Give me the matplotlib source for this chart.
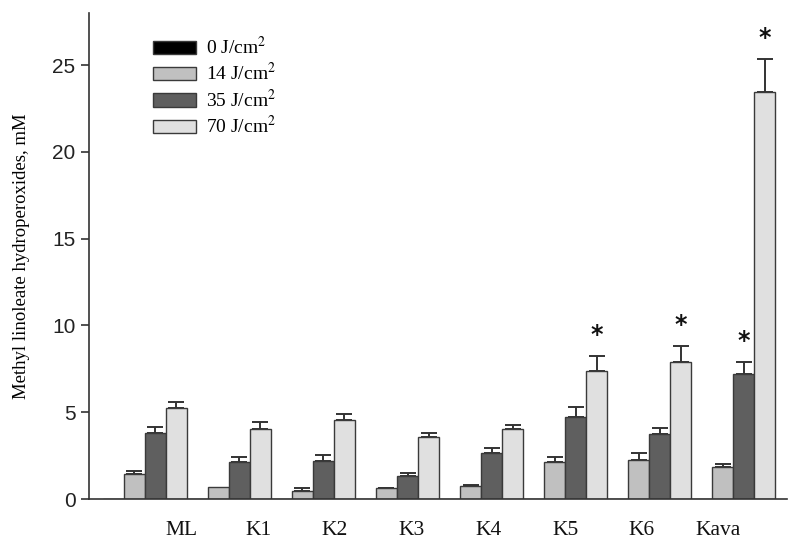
#!/usr/bin/env python3
"""Methyl linoleate hydroperoxides per UV dose, grouped bar chart."""

import matplotlib

matplotlib.use("Agg")
import matplotlib.pyplot as plt
import numpy as np

plt.rcParams["mathtext.fontset"] = "stix"

GROUPS = ["ML", "K1", "K2", "K3", "K4", "K5", "K6", "Kava"]
DOSES = [r"0 J/cm$^{2}$", r"14 J/cm$^{2}$", r"35 J/cm$^{2}$", r"70 J/cm$^{2}$"]

v0 = [0, 0, 0, 0, 0, 0, 0, 0]
e0 = [0, 0, 0, 0, 0, 0, 0, 0]
v14 = [1.44, 0.69, 0.46, 0.62, 0.77, 2.14, 2.25, 1.83]
e14 = [0.16, 0.0, 0.19, 0.03, 0.03, 0.28, 0.39, 0.19]
v35 = [3.83, 2.14, 2.21, 1.33, 2.64, 4.72, 3.73, 7.18]
e35 = [0.33, 0.26, 0.31, 0.17, 0.32, 0.57, 0.35, 0.73]
v70 = [5.24, 4.04, 4.56, 3.60, 4.02, 7.39, 7.89, 23.46]
e70 = [0.36, 0.39, 0.31, 0.19, 0.25, 0.87, 0.94, 1.87]

# (group index, dose index) marked significant
STARS = [(5, 3), (6, 3), (7, 2), (7, 3)]

COLORS = ["#000000", "#c0c0c0", "#5f5f5f", "#e0e0e0"]
EDGE = "#3a3a3a"


def main() -> None:
    fig = plt.figure(figsize=(8.0, 5.53), dpi=100)
    ax = fig.add_axes([0.111, 0.0976, 0.873, 0.879])

    values = [v0, v14, v35, v70]
    errors = [e0, e14, e35, e70]
    x = np.arange(len(GROUPS)) * 4.0

    for j, (vals, errs) in enumerate(zip(values, errors)):
        vals = np.asarray(vals)
        errs = np.asarray(errs)
        ax.bar(x + j, vals, width=1.0, align="edge", color=COLORS[j],
               edgecolor=EDGE, linewidth=1.0, label=DOSES[j], zorder=2)
        has = errs > 0
        if has.any():
            ax.errorbar(x[has] + j + 0.5, vals[has],
                        yerr=[np.zeros(has.sum()), errs[has]],
                        fmt="none", ecolor="#333333", elinewidth=1.4,
                        capsize=5.5, capthick=1.4, zorder=1)

    for g, d in STARS:
        top = values[d][g] + errors[d][g]
        ax.text(x[g] + d + 0.5, top + 1.2, "*", ha="center", va="center",
                fontsize=17, fontweight="bold", color="#111111")

    ax.set_xlim(-0.667, 32.57)
    ax.set_ylim(0, 28)
    ax.set_yticks([0, 5, 10, 15, 20, 25])
    ax.tick_params(axis="y", direction="out", length=6, width=1.1,
                   labelsize=15, colors="#222222")
    for lab in ax.get_yticklabels():
        lab.set_fontfamily("Liberation Sans")

    ax.set_xticks(3.75 + 3.65 * np.arange(len(GROUPS)))
    ax.set_xticklabels(GROUPS, fontfamily="Liberation Serif", fontsize=15.5)
    ax.tick_params(axis="x", length=0, pad=16, colors="#111111")

    ax.set_ylabel("Methyl linoleate hydroperoxides, mM",
                  fontfamily="Liberation Serif", fontsize=13.5, labelpad=16)

    for side in ("top", "right"):
        ax.spines[side].set_visible(False)
    for side in ("left", "bottom"):
        ax.spines[side].set_linewidth(1.2)
        ax.spines[side].set_color("#333333")

    leg = ax.legend(loc="upper left", bbox_to_anchor=(0.191, 0.935),
                    bbox_transform=fig.transFigure, frameon=False,
                    prop={"family": "Liberation Serif", "size": 14},
                    handlelength=2.2, handleheight=0.67, handletextpad=0.55,
                    labelspacing=0.22, borderpad=0, borderaxespad=0)
    for h in leg.legend_handles:
        h.set_edgecolor(EDGE)

    fig.savefig("out.png", dpi=100)


if __name__ == "__main__":
    main()
